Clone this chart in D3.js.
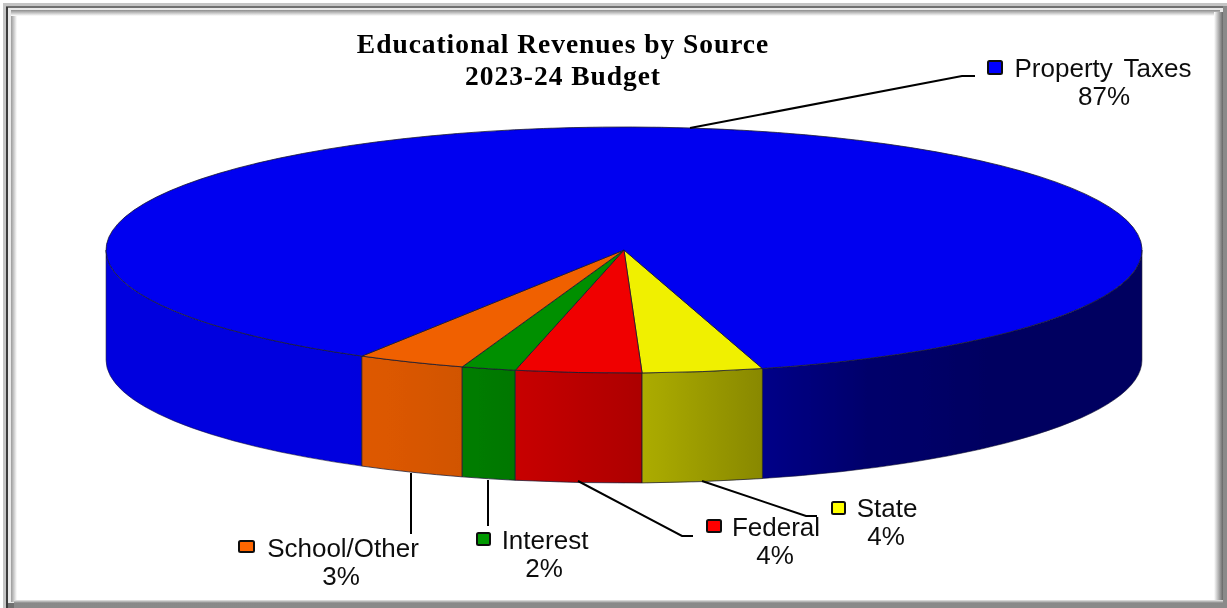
<!DOCTYPE html>
<html><head><meta charset="utf-8">
<script src="https://cdn.jsdelivr.net/npm/d3@7"></script>
<style>html,body{margin:0;padding:0;background:#fff;overflow:hidden}svg{display:block}
text{font-family:"Liberation Sans",Arial,sans-serif;fill:#111}
.t{font-family:"Liberation Serif",serif;font-weight:bold;font-size:27.5px;letter-spacing:.95px;fill:#000}
</style></head><body><svg id="c" width="1227" height="608"></svg>
<script>
// data (clockwise from the front-right edge)
const categories = ["State","Federal","Interest","School/Other","Property Taxes"];
const values = [3.75,3.92,1.69,3.39,87.25];
const percentLabels = ["4%","4%","2%","3%","87%"];
const topColors = ["#f0f000","#f00000","#008f00","#f06000","#0000f0"];
const swatchColors = ["#ffff00","#ff0000","#009900","#ff6600","#0000ff"];
const titleLines = ["Educational Revenues by Source","2023-24 Budget"];

// layout
const W=1227,H=608,cx=624,cy=250,rx=518,ry=123,depth=110;
const startAngle=164.5*Math.PI/180;
const labelX=[887,776,545,343,1103], labelY=[517,536,549,557,77];
const pctX=[886,775,544,341,1104], pctY=[545,564,577,585,105];
const swX=[832,707,477,239,988], swY=[502,520,533,541,61], swW=[13,14,13,15,14], swH=[12,12,12,11,13];
const leaders=[
 [[702,481],[806,516],[817,516]],
 [[578,481],[682,536],[693,536]],
 [[488,480],[488,526]],
 [[411,473],[411,534]],
 [[690,128],[962,76],[975,76]]];
const shadeX=[107,362,462,515,642,762,860,1000,1142], shadeV=[.93,.93,.87,.83,.72,.57,.45,.40,.40];

const svg=d3.select("#c"), defs=svg.append("defs");
const shade=d3.scaleLinear().domain(shadeX).range(shadeV);
const blur=defs.append("filter").attr("id","soft").attr("x","-5%").attr("y","-5%").attr("width","110%").attr("height","110%");
blur.append("feGaussianBlur").attr("stdDeviation",0.45);

function ramp(id,x1,y1,x2,y2,stops){
  const g=defs.append("linearGradient").attr("id",id).attr("gradientUnits","userSpaceOnUse")
    .attr("x1",x1).attr("y1",y1).attr("x2",x2).attr("y2",y2);
  stops.forEach(s=>g.append("stop").attr("offset",s[0]).attr("stop-color",s[1]));
  return `url(#${id})`;
}
// frame
const fr=svg.append("g").attr("filter","url(#soft)");
fr.append("rect").attr("x",3).attr("y",3).attr("width",W-3).attr("height",H-3).attr("fill","#c4c4c4");
fr.append("rect").attr("x",6).attr("y",6).attr("width",W-6).attr("height",H-6).attr("fill","#707070");
fr.append("rect").attr("x",6).attr("y",7).attr("width",2).attr("height",H-7).attr("fill","#3a3a3a");
fr.append("rect").attr("x",8).attr("y",8).attr("width",W-12).attr("height",H-13).attr("fill","#e8e8e8");
fr.append("rect").attr("x",11).attr("y",10).attr("width",6).attr("height",H-16)
  .attr("fill",ramp("fl",11,0,17,0,[[0,"#9a9a9a"],[1,"#ffffff"]]));
fr.append("rect").attr("x",11).attr("y",10).attr("width",W-18).attr("height",6)
  .attr("fill",ramp("ft",0,10,0,16,[[0,"#8c8c8c"],[1,"#ffffff"]]));
fr.append("rect").attr("x",17).attr("y",16).attr("width",1199).attr("height",584).attr("fill","#fff");
fr.append("rect").attr("x",1214).attr("y",12).attr("width",9).attr("height",H-12)
  .attr("fill",ramp("fr",1214,0,1223,0,[[0,"#ffffff"],[1,"#666666"]]));
fr.append("rect").attr("x",14).attr("y",600).attr("width",W-14).attr("height",8)
  .attr("fill",ramp("fb",0,600,0,606,[[0,"#e8e8e8"],[.5,"#888888"],[1,"#8a8a8a"]]));
fr.append("rect").attr("x",1223).attr("y",6).attr("width",4).attr("height",H-6).attr("fill","#8a8a8a");

// pie
const arcs=d3.pie().sort(null).value(d=>d).startAngle(startAngle).endAngle(startAngle+2*Math.PI)(values);
const px=a=>cx+rx*Math.sin(a), py=a=>cy-ry*Math.cos(a);
const TAU=2*Math.PI;
function sideGrad(i){
  const c=d3.rgb(topColors[i]);
  const xs=d3.range(107,1143,40).concat([1142]);
  return ramp("side"+i,107,0,1142,0,xs.map(x=>{
    const s=shade(x);
    return [(x-107)/(1142-107),d3.rgb(c.r*s,c.g*s,c.b*s).formatHex()];
  }));
}
function sidePath(a0,a1){
  const large=(a1-a0)>Math.PI?1:0;
  return `M${px(a0)},${py(a0)}A${rx},${ry} 0 ${large} 1 ${px(a1)},${py(a1)}`+
    `L${px(a1)},${py(a1)+depth}A${rx},${ry} 0 ${large} 0 ${px(a0)},${py(a0)+depth}Z`;
}
const pie=svg.append("g").attr("filter","url(#soft)");
const edge={stroke:"#1a1a30","stroke-width":1,"stroke-linejoin":"round"};
function styled(sel){Object.entries(edge).forEach(([k,v])=>sel.attr(k,v));return sel;}
// sides: only the front half (90deg..270deg, repeated one turn on)
const front=[[Math.PI/2,3*Math.PI/2],[Math.PI/2+TAU,3*Math.PI/2+TAU]];
[4,3,2,1,0].forEach(i=>{
  const d=arcs[i]; const fill=sideGrad(i);
  front.forEach(f=>{
    const a0=Math.max(d.startAngle,f[0]),a1=Math.min(d.endAngle,f[1]);
    if(a1>a0) styled(pie.append("path").attr("d",sidePath(a0,a1)).attr("fill",fill))
      .attr("stroke-opacity",i===4?.55:.75);
  });
});
// tops
arcs.forEach((d,i)=>{
  const large=(d.endAngle-d.startAngle)>Math.PI?1:0;
  styled(pie.append("path")
    .attr("d",`M${cx},${cy}L${px(d.startAngle)},${py(d.startAngle)}A${rx},${ry} 0 ${large} 1 ${px(d.endAngle)},${py(d.endAngle)}Z`)
    .attr("fill",topColors[i])).attr("stroke-opacity",.8);
});

// leaders
const line=d3.line();
svg.append("g").attr("filter","url(#soft)").selectAll("path").data(leaders).join("path")
  .attr("d",line).attr("fill","none").attr("stroke","#000").attr("stroke-width",2);

// labels
const lab=svg.append("g").attr("filter","url(#soft)");
categories.forEach((c,i)=>{
  lab.append("rect").attr("x",swX[i]).attr("y",swY[i]).attr("width",swW[i]).attr("height",swH[i]).attr("rx",1.5)
    .attr("fill",swatchColors[i]).attr("stroke","#111").attr("stroke-width",2);
  lab.append("text").attr("x",labelX[i]).attr("y",labelY[i]).attr("text-anchor","middle")
    .attr("font-size",26).attr("word-spacing",i===4?"4px":null).text(c);
  lab.append("text").attr("x",pctX[i]).attr("y",pctY[i]).attr("text-anchor","middle")
    .attr("font-size",26).text(percentLabels[i]);
});
// title
const ty=[53,85];
titleLines.forEach((t,i)=>lab.append("text").attr("class","t").attr("x",563).attr("y",ty[i]).attr("text-anchor","middle").text(t));
</script></body></html>
